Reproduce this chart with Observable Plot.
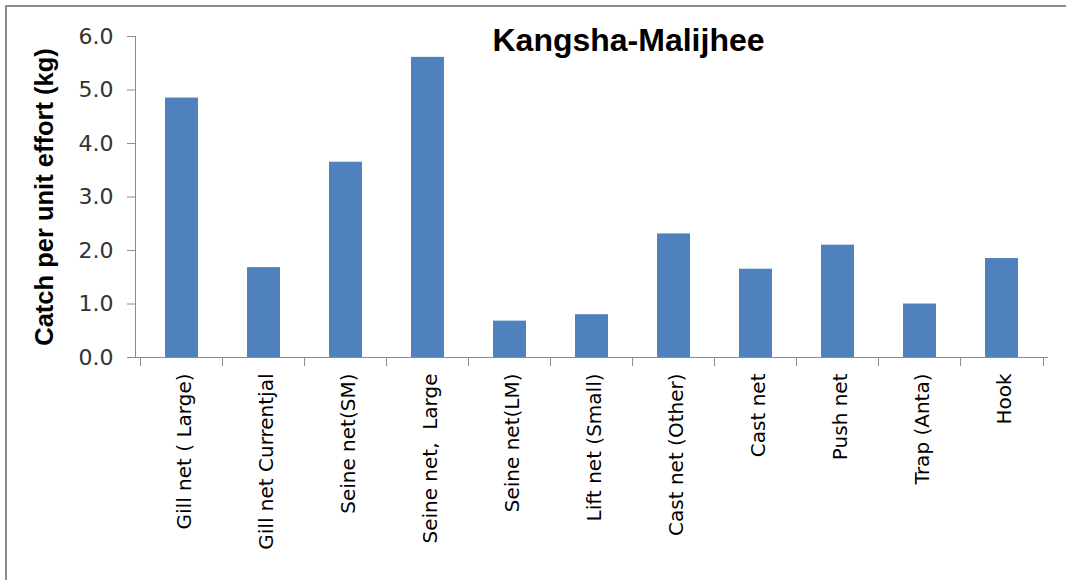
<!DOCTYPE html>
<html>
<head>
<meta charset="utf-8">
<script src="https://cdn.jsdelivr.net/npm/d3@7"></script>
<script src="https://cdn.jsdelivr.net/npm/@observablehq/plot@0.6"></script>
<style>
  html, body { margin: 0; padding: 0; background: #fff; }
  #wrap { position: relative; width: 1066px; height: 580px; overflow: hidden; }
  #border { position: absolute; left: 5px; top: 5px; width: 1200px; height: 700px;
            border-top: 2px solid #8c8c8c; border-left: 2px solid #8c8c8c; }
  #chart { position: absolute; left: 0; top: 0; }
</style>
</head>
<body>
<div id="wrap"><div id="border"></div><div id="chart"></div></div>
<script>
const title = "Kangsha-Malijhee";
const yLabel = "Catch per unit effort (kg)";
const categories = ["Gill net ( Large)", "Gill net Currentjal", "Seine net(SM)", "Seine net,  Large",
  "Seine net(LM)", "Lift net (Small)", "Cast net (Other)", "Cast net", "Push net", "Trap (Anta)", "Hook"];
const values = [4.85, 1.68, 3.65, 5.61, 0.68, 0.80, 2.31, 1.65, 2.10, 1.00, 1.85];
const yTicks = [0, 1, 2, 3, 4, 5, 6];

const data = categories.map((c, i) => ({category: c, value: values[i]}));

const W = 1066, H = 580, mL = 135, mR = 19, mT = 36, mB = 223;
const step = (W - mL - mR) / categories.length;
const axisGray = "#8c8c8c";

const chart = Plot.plot({
  width: W, height: H,
  marginLeft: mL, marginRight: mR, marginTop: mT, marginBottom: mB,
  style: {fontFamily: "DejaVu Sans", fontSize: "20px", background: "transparent", overflow: "visible"},
  x: {domain: categories, paddingInner: 0.6, paddingOuter: 0.3, align: 0.5, axis: null},
  y: {domain: [0, 6], axis: null},
  marks: [
    Plot.barY(data, {x: "category", y: "value", fill: "#4F81BD"}),
    Plot.frame({anchor: "left", stroke: axisGray}),
    Plot.frame({anchor: "bottom", stroke: axisGray}),
    Plot.axisY({ticks: yTicks, tickFormat: d => d.toFixed(1), tickSize: 8, tickPadding: 14,
      stroke: axisGray, fill: "#333", label: null, fontSize: 22}),
    Plot.axisX({tickSize: 0, tickRotate: -90, tickPadding: 16, fill: "#000", label: null, fontSize: 20, dx: 3}),
    Plot.ruleX(categories, {x: d => d, y1: () => 0, y2: () => 0, insetBottom: -9, dx: -step / 2, stroke: axisGray}),
    Plot.ruleX(categories.slice(-1), {x: d => d, y1: () => 0, y2: () => 0, insetBottom: -9, dx: step / 2, stroke: axisGray}),
    Plot.text([title], {frameAnchor: "top", dx: 37, dy: -8, fontSize: 32, fontWeight: "bold",
      fontFamily: "Liberation Sans", fill: "#000", textAnchor: "middle"}),
    Plot.text([yLabel], {frameAnchor: "left", rotate: -90, dx: -91, fontSize: 25.5, fontWeight: "bold",
      fontFamily: "Liberation Sans", fill: "#000", textAnchor: "middle"})
  ]
});
document.getElementById("chart").appendChild(chart);
</script>
</body>
</html>
